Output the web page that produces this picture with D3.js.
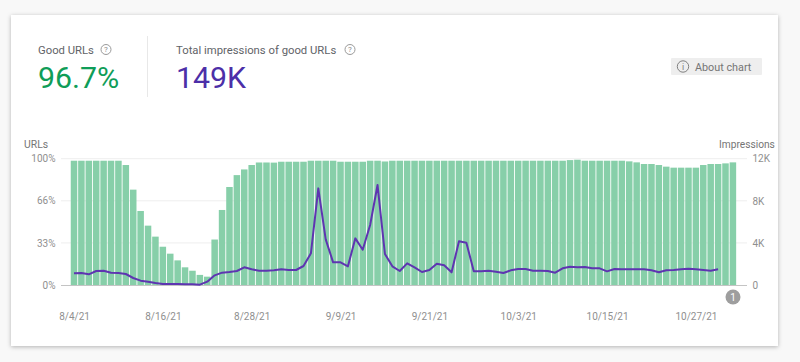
<!DOCTYPE html>
<html><head><meta charset="utf-8">
<script src="https://cdn.jsdelivr.net/npm/d3@7"></script>
<style>
html,body{margin:0;padding:0;background:#f8f8f8;}
svg{display:block;font-family:Roboto,sans-serif;}
.tick line{shape-rendering:crispEdges;}
</style></head><body>
<svg id="c" width="800" height="362"></svg>
<script>
const startDate = "2021-08-04";
const tickLabels = ["8/4/21","8/16/21","8/28/21","9/9/21","9/21/21","10/3/21","10/15/21","10/27/21"];
const goodUrlsPct = [98.4,98.4,98.4,98.4,98.4,98.4,98.4,95,75.5,58.6,47,38.3,30.3,24.8,19.5,14,11.3,8,6.6,36,59.4,77.6,87,91.5,95,97,
  97,96.9,97.6,97.6,97.6,97.6,98.4,98.4,98.4,98.4,97.6,97.6,97.6,97.6,98.4,98.4,97.8,98.4,98.4,98.4,98.4,98.4,98.4,98.4,98.4,98.4,98.4,98.4,98.4,98.4,98.4,98.4,98.4,98.4,98.4,98.4,
  98.4,98.4,98.4,98.4,98.4,98.9,99.2,98.4,98.4,98.4,98.4,98.4,98.4,97.9,97.1,95.8,95.8,95,93.7,92.9,92.9,92.9,92.9,95,95.8,95.8,96.3,97.1];
const impressions = [1108,1140,1013,1330,1361,1171,1140,1045,665,412,317,190,95,95,95,63,63,32,317,918,1171,1235,1330,1678,1488,1361,
  1361,1393,1488,1425,1425,1805,3008,9181,4337,2153,2153,1773,4432,3356,5699,9498,2944,1773,1330,2058,1678,1235,1425,2026,1868,1203,4147,4021,1298,1298,1361,1266,1140,1393,1520,1520,
  1361,1361,1330,1171,1583,1741,1678,1710,1583,1583,1298,1520,1488,1488,1488,1488,1393,1203,1393,1425,1488,1551,1488,1425,1361,1488];
const leftTickValues = [0,33.33,66.67,100];
const leftTickLabels = ["0%","33%","66%","100%"];
const rightTickValues = [0,4000,8000,12000];
const rightTickLabels = ["0","4K","8K","12K"];

const svg = d3.select("#c");
const dates = goodUrlsPct.map((_,i)=>d3.timeDay.offset(new Date(startDate+"T12:00:00"),i));
const x = d3.scaleBand().domain(dates).range([70.3,736.6]).paddingInner(0.12).paddingOuter(0.06);
const yL = d3.scaleLinear().domain([0,100]).range([285,158.7]);
const yR = d3.scaleLinear().domain([0,12000]).range([285,158.7]);

svg.append("rect").attr("x",11).attr("y",15).attr("width",767).attr("height",331)
  .attr("fill","#fff").style("filter","drop-shadow(0 1px 2px rgba(0,0,0,.28))");

// header
const grey="#5f6368";
function help(cx,cy){const g=svg.append("g");
  g.append("circle").attr("cx",cx).attr("cy",cy).attr("r",5).attr("fill","none").attr("stroke","#9a9a9a").attr("stroke-width",1);
  g.append("text").attr("x",cx).attr("y",cy+2.7).attr("text-anchor","middle").attr("font-size",8).attr("fill","#8a8a8a").text("?");}
svg.append("text").attr("x",38).attr("y",53.5).attr("font-size",11.3).attr("fill",grey).text("Good URLs");
help(106,49.5);
svg.append("text").attr("x",38).attr("y",88).attr("font-size",30.3).attr("fill","#0f9d58").text("96.7%");
svg.append("line").attr("x1",147.5).attr("x2",147.5).attr("y1",36).attr("y2",97).attr("stroke","#e8e8e8");
svg.append("text").attr("x",176).attr("y",53.5).attr("font-size",11.3).attr("fill",grey).text("Total impressions of good URLs");
help(350,49.5);
svg.append("text").attr("x",176).attr("y",88).attr("font-size",30.3).attr("fill","#4c2fa8").text("149K");
svg.append("rect").attr("x",671).attr("y",58).attr("width",91).attr("height",17).attr("rx",1).attr("fill","#eeeeee");
svg.append("circle").attr("cx",683).attr("cy",66.5).attr("r",5.7).attr("fill","none").attr("stroke","#808080").attr("stroke-width",1);
svg.append("text").attr("x",683).attr("y",70).attr("text-anchor","middle").attr("font-size",9).attr("fill","#808080").text("i");
svg.append("text").attr("x",695).attr("y",70.5).attr("font-size",10.8).attr("fill","#757575").text("About chart");

// axis titles
svg.append("text").attr("x",24).attr("y",148).attr("font-size",10.4).attr("fill","#757575").text("URLs");
svg.append("text").attr("x",719).attr("y",148).attr("font-size",10.2).attr("fill","#757575").text("Impressions");

// gridlines
svg.append("g").selectAll("line").data(leftTickValues.slice(1)).join("line")
  .attr("x1",61).attr("x2",747).attr("y1",d=>yL(d)).attr("y2",d=>yL(d)).attr("stroke","#eeeeee");

// bars
svg.append("g").selectAll("rect").data(goodUrlsPct).join("rect")
  .attr("x",(d,i)=>x(dates[i])).attr("width",x.bandwidth())
  .attr("y",d=>yL(d)).attr("height",d=>yL(0)-yL(d)).attr("fill","#87cfa9");

// baseline
svg.append("line").attr("x1",61).attr("x2",747).attr("y1",285.5).attr("y2",285.5).attr("stroke","#c4c4c4");

// line
const line = d3.line().x((d,i)=>x(dates[i])+x.bandwidth()/2).y(d=>yR(d));
svg.append("path").datum(impressions).attr("d",line).attr("fill","none").attr("stroke","#5e35b1").attr("stroke-width",2).attr("stroke-linejoin","round");

// axes
function style(g){g.select(".domain").remove();g.selectAll("line").remove();g.selectAll("text").attr("fill","#8f8f8f").attr("font-size",10).attr("font-family","Roboto,sans-serif");}
svg.append("g").attr("transform","translate(55.5,0)")
  .call(d3.axisLeft(yL).tickValues(leftTickValues).tickSize(0).tickPadding(0).tickFormat((d,i)=>leftTickLabels[i])).call(style);
svg.append("g").attr("transform","translate(752.5,0)")
  .call(d3.axisRight(yR).tickValues(rightTickValues).tickSize(0).tickPadding(0).tickFormat((d,i)=>rightTickLabels[i])).call(style);
const tickDates = tickLabels.map((_,i)=>dates[i*12]);
svg.append("g").attr("transform","translate(0.5,312.5)")
  .call(d3.axisBottom(x).tickValues(tickDates).tickSize(0).tickPadding(0).tickFormat((d,i)=>tickLabels[i])).call(style);

// annotation badge
svg.append("circle").attr("cx",733).attr("cy",297).attr("r",7.5).attr("fill","#9e9e9e");
svg.append("text").attr("x",733).attr("y",300.5).attr("text-anchor","middle").attr("font-size",10).attr("fill","#fff").text("1");
</script></body></html>
